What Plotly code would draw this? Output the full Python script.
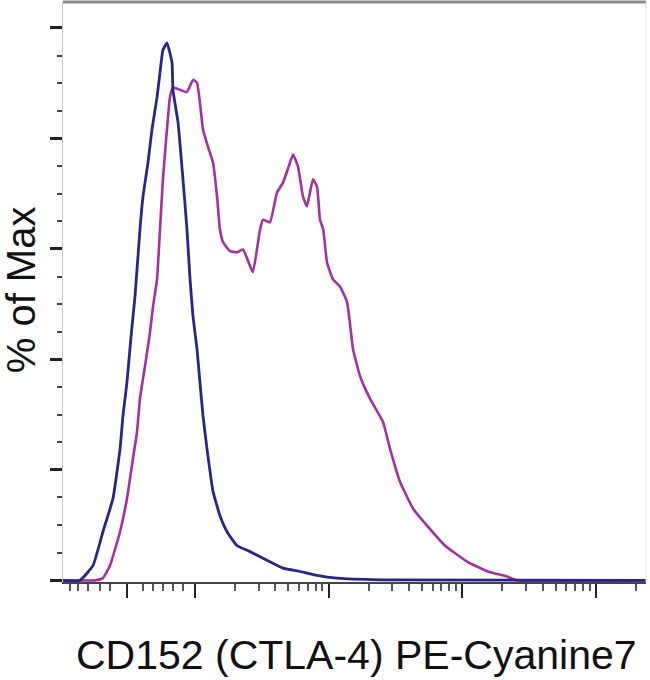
import plotly.graph_objects as go

# Histogram overlays (x in decade-like display units, y in % of Max)
blue_x = [2.012, 2.139, 2.237, 2.311, 2.386, 2.439, 2.461, 2.491, 2.513, 2.536, 2.551, 2.588,
          2.611, 2.648, 2.678, 2.716, 2.738, 2.760, 2.790, 2.828, 2.835, 2.873, 2.910, 2.940,
          2.963, 2.985, 3.015, 3.037, 3.060, 3.090, 3.135, 3.187, 3.240, 3.314, 3.412, 3.659,
          3.786, 3.913, 4.063, 4.385, 6.376]
blue_y = [0.0, 0.0, 2.7, 8.8, 14.8, 23.8, 29.8, 35.9, 41.9, 47.8, 51.4, 63.5,
          69.5, 75.6, 81.6, 87.5, 91.9, 96.0, 97.3, 93.7, 88.8, 82.9, 72.6, 63.5,
          54.5, 47.8, 41.9, 35.9, 29.8, 23.8, 16.1, 11.7, 8.8, 6.3, 5.2, 2.2,
          1.6, 0.9, 0.4, 0.1, 0.0]

purple_x = [2.012, 2.251, 2.311, 2.364, 2.439, 2.491, 2.528, 2.566, 2.588, 2.626, 2.663, 2.686,
            2.716, 2.738, 2.760, 2.790, 2.813, 2.835, 2.888, 2.940, 2.985, 3.015, 3.037, 3.060,
            3.097, 3.135, 3.165, 3.187, 3.210, 3.262, 3.314, 3.359, 3.412, 3.434, 3.487, 3.509,
            3.561, 3.614, 3.659, 3.711, 3.734, 3.771, 3.808, 3.838, 3.883, 3.913, 3.936, 3.960,
            3.988, 4.033, 4.085, 4.138, 4.183, 4.235, 4.310, 4.407, 4.460, 4.534, 4.632, 4.737,
            4.871, 5.036, 5.193, 5.335, 5.410, 6.376]
purple_y = [0.0, 0.0, 0.4, 2.7, 8.8, 14.8, 20.8, 26.9, 32.9, 38.8, 44.9, 49.6,
            54.5, 63.5, 72.6, 81.6, 87.5, 89.2, 88.8, 88.4, 90.6, 90.1, 86.5, 81.6,
            78.5, 75.6, 69.5, 63.5, 61.2, 59.6, 59.4, 59.9, 56.9, 55.8, 63.5, 65.3,
            64.8, 70.2, 72.0, 75.6, 77.1, 74.9, 69.5, 67.7, 72.6, 71.3, 65.3, 63.5,
            57.6, 54.5, 53.2, 50.4, 41.9, 37.0, 32.9, 28.7, 23.8, 17.9, 13.0, 9.9,
            6.3, 3.4, 1.6, 0.7, 0.0, 0.0]

x_major_ticks = [2.491, 3, 4, 5, 6]
x_minor_ticks = [2.064, 2.124, 2.199, 2.289, 2.364, 2.611, 2.686, 2.760, 2.835, 2.910,
                 3.301, 3.477, 3.602, 3.699, 3.778, 3.845, 3.903, 3.954,
                 4.301, 4.477, 4.602, 4.699, 4.778, 4.845, 4.903, 4.954,
                 5.301, 5.477, 5.602, 5.699, 5.778, 5.845, 5.903, 5.954,
                 6.301]
y_major_ticks = [0, 20, 40, 60, 80, 100]

x_title = "CD152 (CTLA-4) PE-Cyanine7"
y_title = "% of Max"

fig = go.Figure()
fig.add_trace(go.Scatter(x=purple_x, y=purple_y, mode="lines",
                         line=dict(color="#a3319f", width=2.6, shape="spline", smoothing=0.4),
                         showlegend=False, hoverinfo="skip"))
fig.add_trace(go.Scatter(x=blue_x, y=blue_y, mode="lines",
                         line=dict(color="#26268a", width=2.8, shape="spline", smoothing=0.4),
                         showlegend=False, hoverinfo="skip"))

fig.update_layout(
    width=650, height=680,
    margin=dict(l=63, r=4, t=2, b=98),
    paper_bgcolor="white", plot_bgcolor="white",
    font=dict(family="Liberation Sans, Arial, sans-serif", color="#111"),
    xaxis=dict(range=[2.012, 6.376], showgrid=False, zeroline=False,
               showline=True, linecolor="#444", linewidth=1.5,
               tickmode="array", tickvals=x_major_ticks, showticklabels=False,
               ticks="outside", ticklen=14, tickwidth=2, tickcolor="#222",
               minor=dict(tickmode="array", tickvals=x_minor_ticks, ticks="outside",
                          ticklen=7, tickwidth=1.5, tickcolor="#555")),
    yaxis=dict(range=[-0.3, 104.7], showgrid=False, zeroline=False,
               showline=True, linecolor="#c8c8c8", linewidth=1,
               tickmode="array", tickvals=y_major_ticks, showticklabels=False,
               ticks="outside", ticklen=12, tickwidth=2.5, tickcolor="#222",
               minor=dict(dtick=5, ticks="outside", ticklen=5, tickwidth=2, tickcolor="#444")),
    annotations=[
        dict(text=x_title, xref="paper", yref="paper", x=0.5026, y=-0.126,
             xanchor="center", yanchor="middle", showarrow=False,
             font=dict(size=41, color="#111")),
        dict(text=y_title, xref="paper", yref="paper", x=-0.072, y=0.503,
             xanchor="center", yanchor="middle", showarrow=False, textangle=-90,
             font=dict(size=40, color="#111")),
    ],
    shapes=[
        dict(type="line", xref="paper", yref="paper", x0=0, x1=1, y0=1, y1=1,
             line=dict(color="#8a8a8a", width=3)),
        dict(type="line", xref="paper", yref="paper", x0=1, x1=1, y0=0, y1=1,
             line=dict(color="#dddddd", width=1)),
    ],
)

fig.write_html("out.html", config={"displayModeBar": False},
               post_script="document.body.style.margin='0';document.body.style.overflow='hidden';")
